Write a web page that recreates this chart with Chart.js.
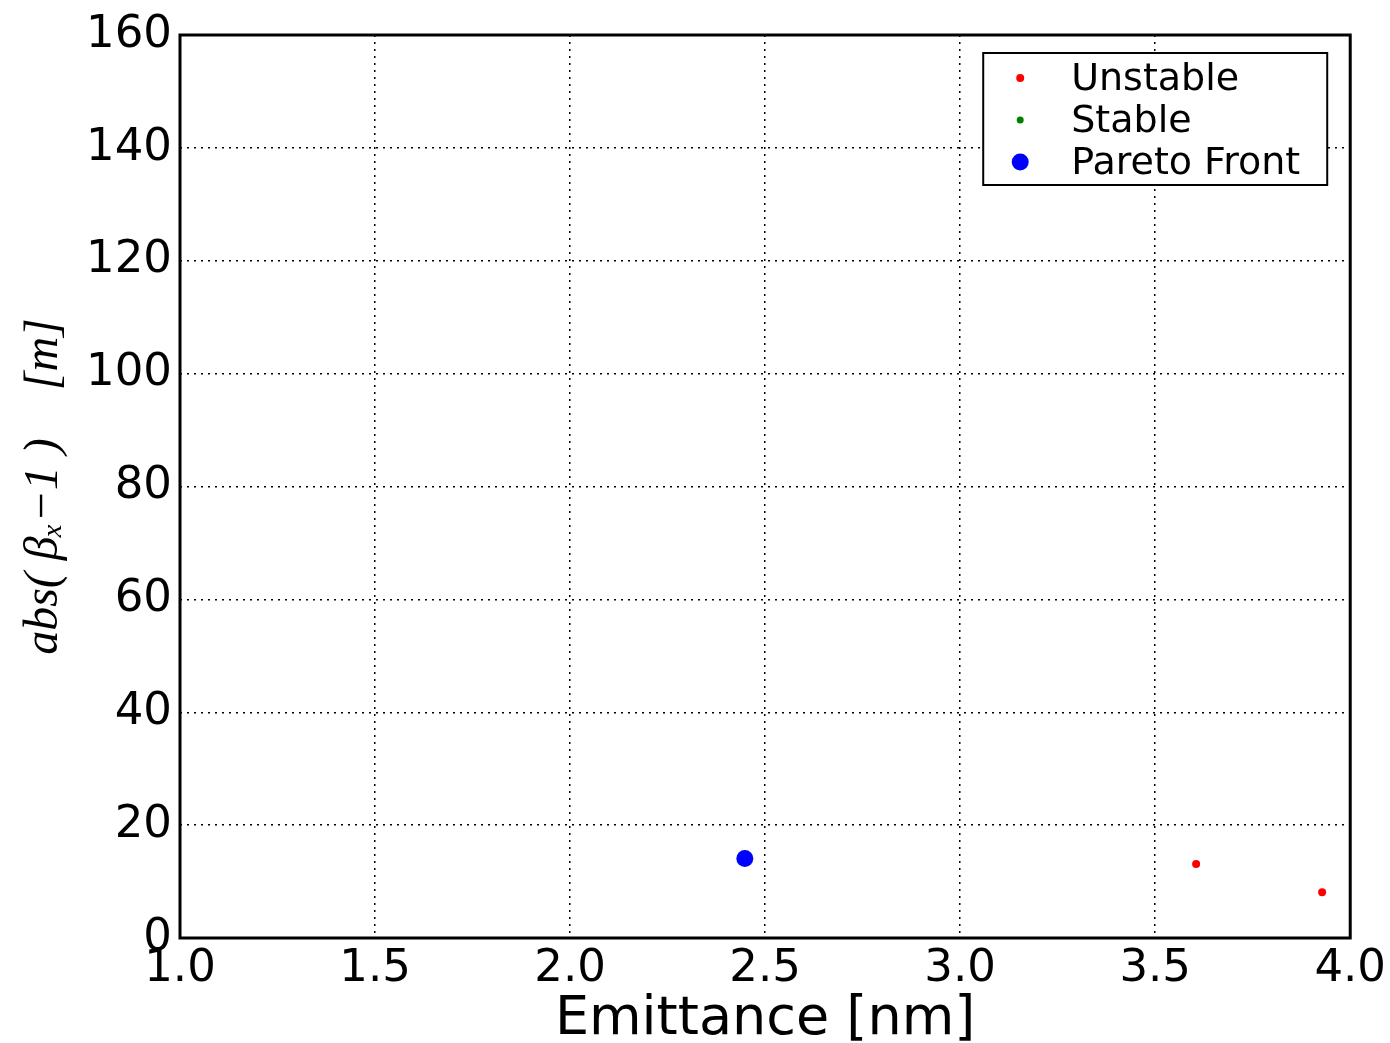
<!DOCTYPE html>
<html>
<head>
<meta charset="utf-8">
<script src="https://cdn.jsdelivr.net/npm/chart.js@4.4.0/dist/chart.umd.min.js"></script>
<style>
  html, body { margin: 0; padding: 0; background: #fff; }
  #wrap { width: 1390px; height: 1043px; }
</style>
</head>
<body>
<div id="wrap"><canvas id="myChart" width="1390" height="1043"></canvas></div>
<script>
// values
const unstableX = [3.605, 3.928];
const unstableY = [13.1, 8.1];
const stableX = [];
const stableY = [];
const paretoX = [2.448];
const paretoY = [14.1];
const seriesNames = ['Unstable', 'Stable', 'Pareto Front'];
const seriesColors = ['#ff0000', '#008000', '#0000ff'];
const seriesRadius = [4, 3.5, 8.5];

const toPoints = (xs, ys) => xs.map((x, i) => ({ x: x, y: ys[i] }));

const tickFont = { family: 'DejaVu Sans', size: 45 };

// frame around the plot area
const frame = {
  id: 'frame',
  afterDraw(chart) {
    const a = chart.chartArea, ctx = chart.ctx;
    ctx.save();
    ctx.strokeStyle = '#000';
    ctx.lineWidth = 3;
    ctx.strokeRect(a.left, a.top, a.right - a.left, a.bottom - a.top);
    ctx.restore();
  }
};

// matplotlib style legend box, upper right, inside the axes
const boxLegend = {
  id: 'boxLegend',
  afterDraw(chart) {
    const a = chart.chartArea, ctx = chart.ctx;
    const w = 344, h = 132;
    const x0 = a.right - 23 - w, y0 = a.top + 18;
    ctx.save();
    ctx.fillStyle = '#fff';
    ctx.fillRect(x0, y0, w, h);
    ctx.strokeStyle = '#000';
    ctx.lineWidth = 2;
    ctx.strokeRect(x0, y0, w, h);
    ctx.font = '38px "DejaVu Sans"';
    ctx.textBaseline = 'middle';
    chart.data.datasets.forEach((ds, i) => {
      const cy = y0 + 25 + i * 42;
      ctx.beginPath();
      ctx.fillStyle = ds.backgroundColor;
      ctx.arc(x0 + 37, cy, ds.pointRadius, 0, Math.PI * 2);
      ctx.fill();
      ctx.fillStyle = '#000';
      ctx.fillText(ds.label, x0 + 88, cy + 2);
    });
    ctx.restore();
  }
};

new Chart(document.getElementById('myChart'), {
  type: 'scatter',
  data: {
    datasets: [
      { label: seriesNames[0], data: toPoints(unstableX, unstableY) },
      { label: seriesNames[1], data: toPoints(stableX, stableY) },
      { label: seriesNames[2], data: toPoints(paretoX, paretoY) }
    ].map((ds, i) => Object.assign(ds, {
      backgroundColor: seriesColors[i],
      borderColor: seriesColors[i],
      borderWidth: 0,
      pointRadius: seriesRadius[i],
      pointHoverRadius: seriesRadius[i]
    }))
  },
  options: {
    responsive: false,
    animation: false,
    layout: { padding: { top: 30, right: 39, left: 0, bottom: 0 } },
    plugins: {
      legend: { display: false },
      tooltip: { enabled: false }
    },
    scales: {
      x: {
        type: 'linear',
        min: 1.0,
        max: 4.0,
        afterFit(scale) { scale.height = 105; },
        ticks: {
          stepSize: 0.5,
          color: '#000',
          font: tickFont,
          padding: 4,
          maxRotation: 0,
          callback: (v) => v.toFixed(1)
        },
        grid: { color: '#000', lineWidth: 1.5, drawTicks: false },
        border: { display: false, dash: [2, 5] },
        title: {
          display: true,
          text: 'Emittance [nm]',
          color: '#000',
          font: { family: 'DejaVu Sans', size: 54 },
          padding: { top: 0, bottom: -9 }
        }
      },
      y: {
        type: 'linear',
        min: 0,
        max: 160,
        afterFit(scale) { scale.width = 180; },
        ticks: {
          stepSize: 20,
          color: '#000',
          font: tickFont,
          padding: 8
        },
        grid: { color: '#000', lineWidth: 1.5, drawTicks: false },
        border: { display: false, dash: [2, 5] },
        title: {
          display: true,
          text: 'abs( \u03b2\u2093\u22121 )    [m]',
          color: '#000',
          font: { family: 'Liberation Serif', size: 48, style: 'italic' },
          padding: { top: 16, bottom: 0 }
        }
      }
    }
  },
  plugins: [frame, boxLegend]
});
</script>
</body>
</html>
